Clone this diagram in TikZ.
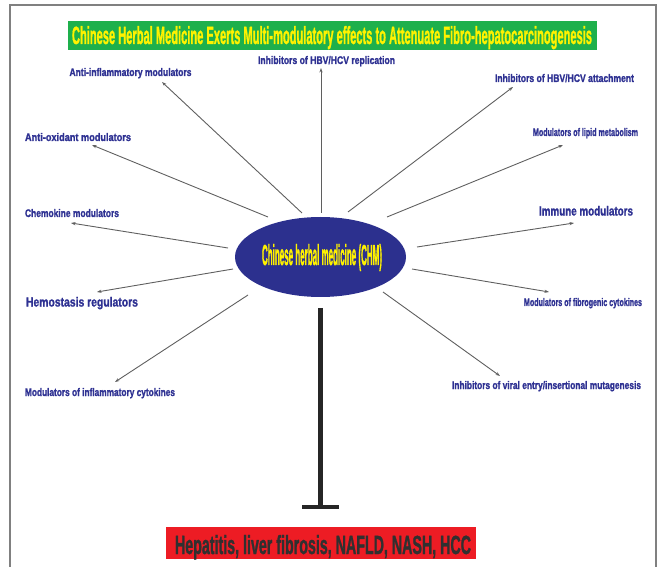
\documentclass[tikz,border=0pt]{standalone}
\usepackage{fontspec}
\setmainfont{Liberation Sans}[BoldFeatures={FakeBold=1.6}]
\usepackage{graphicx}
\usetikzlibrary{shapes.geometric,arrows.meta}
\definecolor{navy}{RGB}{46,49,146}
\definecolor{ellblue}{RGB}{44,48,142}
\definecolor{titlegreen}{RGB}{30,176,76}
\definecolor{ttyellow}{RGB}{255,242,0}
\definecolor{boxred}{RGB}{237,28,36}
\definecolor{darktxt}{RGB}{48,48,48}
\definecolor{linegray}{RGB}{95,95,95}
\definecolor{framegray}{RGB}{128,128,128}
\newcommand{\fitbox}[3]{\resizebox{#1pt}{#2pt}{\bfseries #3}}
\begin{document}
\begin{tikzpicture}[x=1pt,y=-1pt,
  lbl/.style={anchor=base,inner sep=0pt,text=navy},
  ray/.style={draw=linegray,line width=0.9pt,-{Stealth[length=4.5pt,width=3.2pt]}},
  blocker/.style={draw=black!85,line width=5pt},
  barcap/.style={draw=black!85,line width=4pt}]
\useasboundingbox (0,0) rectangle (657,567);
% frame
\draw[framegray,line width=2pt] (10,570) -- (10,5) -- (655.5,5) -- (655.5,570);
% title
\node[fill=titlegreen,minimum width=529pt,minimum height=29pt,inner sep=0pt] (titlebox) at (332.5,35.5) {};
\node[lbl,text=ttyellow] (title) at (332,44) {\fitbox{520}{18}{Chinese Herbal Medicine Exerts Multi-modulatory effects to Attenuate Fibro-hepatocarcinogenesis}};
% centre
\node[ellipse,fill=ellblue,minimum width=171pt,minimum height=80pt,inner sep=0pt] (chm) at (320.5,257) {};
\node[lbl,text=ttyellow] (chmtext) at (322,265) {\fitbox{120}{21}{Chinese herbal medicine (CHM)}};
% labels
\node[lbl] (l1) at (130.5,76) {\fitbox{122}{8}{Anti-inflammatory modulators}};
\node[lbl] (l2) at (326.5,64) {\fitbox{137}{8}{Inhibitors of HBV/HCV replication}};
\node[lbl] (l3) at (564.5,82) {\fitbox{139}{8}{Inhibitors of HBV/HCV attachment}};
\node[lbl] (l4) at (78,141) {\fitbox{106}{8}{Anti-oxidant modulators}};
\node[lbl] (l5) at (585.5,136) {\fitbox{105}{8}{Modulators of lipid metabolism}};
\node[lbl] (l6) at (72,217) {\fitbox{94}{8}{Chemokine modulators}};
\node[lbl] (l7) at (586,215.5) {\fitbox{94}{9.5}{Immune modulators}};
\node[lbl] (l8) at (82,306.5) {\fitbox{112}{9.5}{Hemostasis regulators}};
\node[lbl] (l9) at (583,306) {\fitbox{118}{8}{Modulators of fibrogenic cytokines}};
\node[lbl] (l10) at (100,396) {\fitbox{150}{8}{Modulators of inflammatory cytokines}};
\node[lbl] (l11) at (546.5,389) {\fitbox{189}{8}{Inhibitors of viral entry/insertional mutagenesis}};
% connector ends
\coordinate (s1) at (302,213);  \coordinate (t1) at (162,82);
\coordinate (s2) at (321,213);  \coordinate (t2) at (321,68);
\coordinate (s3) at (348,212);  \coordinate (t3) at (513,87);
\coordinate (s4) at (268,217);  \coordinate (t4) at (92,145);
\coordinate (s5) at (387,217);  \coordinate (t5) at (563,145);
\coordinate (s6) at (228,248);  \coordinate (t6) at (71,223);
\coordinate (s7) at (417,247);  \coordinate (t7) at (574,223);
\coordinate (s8) at (233,269);  \coordinate (t8) at (97,292);
\coordinate (s9) at (412,269);  \coordinate (t9) at (549,292);
\coordinate (s10) at (248,295); \coordinate (t10) at (115,382);
\coordinate (s11) at (383,292); \coordinate (t11) at (500,376);
\foreach \i in {1,...,11} {\draw[ray] (s\i) -- (t\i);}
% inhibition
\coordinate (stemtop) at (320,308);
\coordinate (stembot) at (320,507);
\draw[blocker] (stemtop) -- (stembot);
\draw[barcap] (302,507) -- (339,507);
% outcome
\node[fill=boxred,minimum width=310pt,minimum height=32pt,inner sep=0pt] (outbox) at (321,543) {};
\node[lbl,text=darktxt] (outcome) at (323,554) {\fitbox{296}{19}{Hepatitis, liver fibrosis, NAFLD, NASH, HCC}};
\end{tikzpicture}
\end{document}
